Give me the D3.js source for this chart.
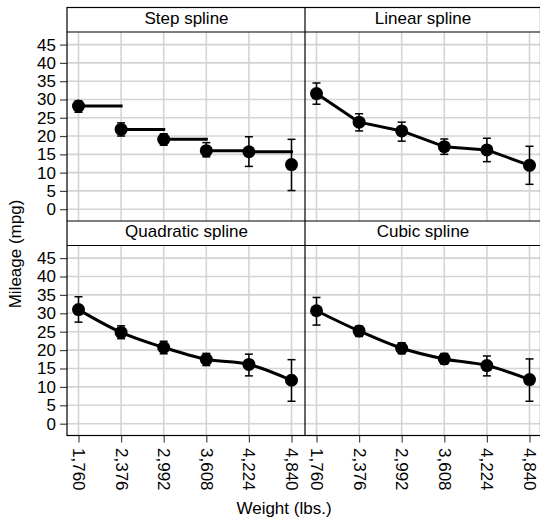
<!DOCTYPE html>
<html>
<head>
<meta charset="utf-8">
<script src="https://cdn.jsdelivr.net/npm/d3@7"></script>
<style>
  html, body { margin: 0; padding: 0; background: #fff; }
  svg { display: block; }
  text { font-family: "Liberation Sans", Arial, sans-serif; fill: #000; }
</style>
</head>
<body>
<svg id="chart" width="540" height="517"></svg>
<script>
// Predicted mileage by weight under four spline specifications
const weights = [1760, 2376, 2992, 3608, 4224, 4840];
const weightLabels = ["1,760", "2,376", "2,992", "3,608", "4,224", "4,840"];
const yTicks = [0, 5, 10, 15, 20, 25, 30, 35, 40, 45];
const panelTitles = ["Step spline", "Linear spline", "Quadratic spline", "Cubic spline"];
const panelKinds = ["step", "linear", "quadratic", "cubic"];

const stepMean = [28.2, 21.8, 19.1, 16.0, 15.7, 12.2];
const stepLo   = [26.5, 20.0, 17.5, 14.3, 11.7, 5.1];
const stepHi   = [29.6, 23.6, 20.6, 18.2, 19.8, 19.1];

const linearMean = [31.6, 23.8, 21.4, 17.1, 16.2, 12.0];
const linearLo   = [28.7, 21.4, 18.6, 15.0, 13.0, 6.8];
const linearHi   = [34.5, 26.1, 23.8, 19.2, 19.4, 17.2];

const quadMean = [31.0, 24.8, 20.7, 17.5, 16.1, 11.8];
const quadLo   = [27.6, 23.1, 19.0, 15.8, 13.0, 6.1];
const quadHi   = [34.5, 26.6, 22.4, 19.1, 18.9, 17.4];

const cubicMean = [30.7, 25.2, 20.5, 17.6, 15.8, 12.0];
const cubicLo   = [26.8, 23.7, 19.0, 16.2, 13.0, 6.1];
const cubicHi   = [34.3, 26.5, 22.0, 19.1, 18.4, 17.6];

const seriesMean = [stepMean, linearMean, quadMean, cubicMean];
const seriesLo = [stepLo, linearLo, quadLo, cubicLo];
const seriesHi = [stepHi, linearHi, quadHi, cubicHi];

const svg = d3.select("#chart");
const FONT = 17;

// Panel grid geometry
const colX = [67, 305, 540.5];
const rows = [
  { stripTop: 7.5, plotTop: 32, plotBottom: 221 },
  { stripTop: 221, plotTop: 245.5, plotBottom: 435.5 }
];

const gridColor = "#d4d4d4";
const tickColor = "#444";

panelKinds.forEach((kind, i) => {
  const col = i % 2, row = Math.floor(i / 2);
  const x0 = colX[col], x1 = colX[col + 1];
  const r = rows[row];

  const x = d3.scaleLinear().domain([1760, 4840]).range([x0 + 11.5, x0 + 224.5]);
  const y = d3.scaleLinear().domain([0, 45]).range([r.plotBottom - 11.8, r.plotTop + 12.6]);

  const g = svg.append("g");

  // gridlines
  g.selectAll("line.hg").data(yTicks).join("line")
    .attr("x1", x0).attr("x2", x1)
    .attr("y1", d => y(d)).attr("y2", d => y(d))
    .attr("stroke", gridColor).attr("stroke-width", 1.6);
  g.selectAll("line.vg").data(weights).join("line")
    .attr("x1", d => x(d)).attr("x2", d => x(d))
    .attr("y1", r.plotTop).attr("y2", r.plotBottom)
    .attr("stroke", gridColor).attr("stroke-width", 1.6);

  const mean = seriesMean[i], lo = seriesLo[i], hi = seriesHi[i];
  const pts = weights.map((w, k) => ({ w, m: mean[k], lo: lo[k], hi: hi[k] }));

  // fitted line
  if (kind === "step") {
    g.selectAll("line.step").data(pts.slice(0, -1)).join("line")
      .attr("x1", (d) => x(d.w))
      .attr("x2", (d, k) => x(weights[k + 1]) + 1.5)
      .attr("y1", d => y(d.m)).attr("y2", d => y(d.m))
      .attr("stroke", "#000").attr("stroke-width", 3);
  } else {
    const curve = kind === "linear" ? d3.curveLinear : d3.curveMonotoneX;
    const line = d3.line().x(d => x(d.w)).y(d => y(d.m)).curve(curve);
    g.append("path").datum(pts).attr("d", line)
      .attr("fill", "none").attr("stroke", "#000").attr("stroke-width", 3)
      .attr("stroke-linejoin", "round");
  }

  // confidence intervals
  const cap = 4;
  const eb = g.selectAll("g.eb").data(pts).join("g").attr("stroke", "#000").attr("stroke-width", 1.5);
  eb.append("line").attr("x1", d => x(d.w)).attr("x2", d => x(d.w))
    .attr("y1", d => y(d.lo)).attr("y2", d => y(d.hi));
  eb.append("line").attr("x1", d => x(d.w) - cap).attr("x2", d => x(d.w) + cap)
    .attr("y1", d => y(d.lo)).attr("y2", d => y(d.lo));
  eb.append("line").attr("x1", d => x(d.w) - cap).attr("x2", d => x(d.w) + cap)
    .attr("y1", d => y(d.hi)).attr("y2", d => y(d.hi));

  // point estimates
  g.selectAll("circle").data(pts).join("circle")
    .attr("cx", d => x(d.w)).attr("cy", d => y(d.m)).attr("r", 6.5)
    .attr("fill", "#000");

  // strip title
  svg.append("text")
    .attr("x", (x0 + Math.min(x1, 540)) / 2 + 0.5)
    .attr("y", r.stripTop + 16)
    .attr("text-anchor", "middle")
    .attr("font-size", FONT)
    .text(panelTitles[i]);

  // y axis on the left column
  if (col === 0) {
    const ya = d3.axisLeft(y).tickValues(yTicks).tickSize(7).tickPadding(4);
    const ag = svg.append("g").attr("transform", `translate(${x0},0)`).call(ya);
    ag.select(".domain").remove();
    ag.selectAll(".tick line").attr("stroke", tickColor).attr("stroke-width", 1.2);
    ag.selectAll(".tick text").attr("font-size", FONT)
      .attr("font-family", "Liberation Sans, Arial, sans-serif").attr("fill", "#000");
  }

  // x axis on the bottom row
  if (row === 1) {
    const xa = d3.axisBottom(x).tickValues(weights).tickSize(7)
      .tickFormat((d, k) => weightLabels[k]);
    const ag = svg.append("g").attr("transform", `translate(0,${r.plotBottom})`).call(xa);
    ag.select(".domain").remove();
    ag.selectAll(".tick line").attr("stroke", tickColor).attr("stroke-width", 1.2);
    ag.selectAll(".tick text")
      .attr("font-size", FONT)
      .attr("font-family", "Liberation Sans, Arial, sans-serif")
      .attr("fill", "#000")
      .attr("text-anchor", "start")
      .attr("transform", "translate(0,12.5) rotate(90)")
      .attr("x", 0).attr("y", 0).attr("dy", "0.35em");
  }
});

// frame, strip separators and panel divider
const frame = svg.append("g").attr("stroke", "#000").attr("stroke-width", 1.2).attr("fill", "none");
frame.append("rect").attr("x", colX[0]).attr("y", rows[0].stripTop)
  .attr("width", colX[2] - colX[0]).attr("height", rows[1].plotBottom - rows[0].stripTop);
frame.append("line").attr("x1", colX[0]).attr("x2", colX[2]).attr("y1", rows[0].plotTop).attr("y2", rows[0].plotTop);
frame.append("line").attr("x1", colX[0]).attr("x2", colX[2]).attr("y1", rows[1].stripTop).attr("y2", rows[1].stripTop);
frame.append("line").attr("x1", colX[0]).attr("x2", colX[2]).attr("y1", rows[1].plotTop).attr("y2", rows[1].plotTop);
frame.append("line").attr("x1", colX[1]).attr("x2", colX[1]).attr("y1", rows[0].stripTop).attr("y2", rows[1].plotBottom);

// axis titles
svg.append("text").attr("x", 284).attr("y", 513.5).attr("text-anchor", "middle")
  .attr("font-size", FONT).text("Weight (lbs.)");
svg.append("text").attr("transform", "translate(20.5,254) rotate(-90)")
  .attr("text-anchor", "middle").attr("font-size", FONT).text("Mileage (mpg)");
</script>
</body>
</html>
